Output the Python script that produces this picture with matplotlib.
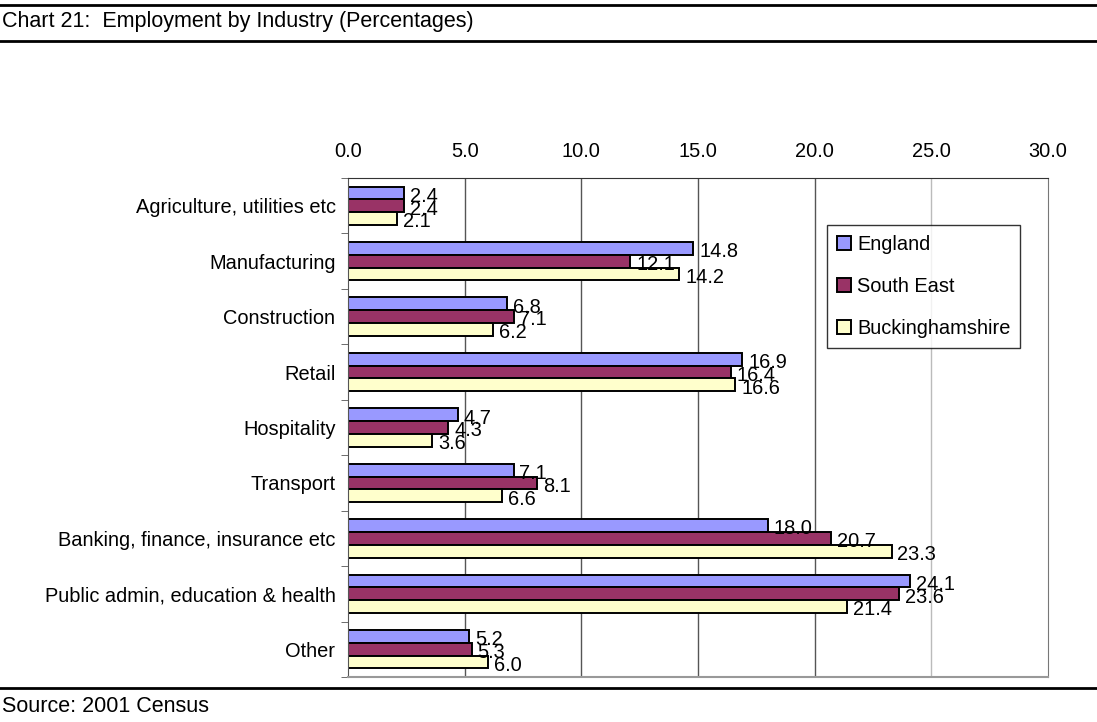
import numpy as np
import matplotlib
matplotlib.use('Agg')
import matplotlib.pyplot as plt
from matplotlib.lines import Line2D

plt.rcParams['font.family'] = ['Liberation Sans', 'DejaVu Sans']

categories = ['Agriculture, utilities etc', 'Manufacturing', 'Construction', 'Retail',
              'Hospitality', 'Transport', 'Banking, finance, insurance etc',
              'Public admin, education & health', 'Other']
england = [2.4, 14.8, 6.8, 16.9, 4.7, 7.1, 18.0, 24.1, 5.2]
south_east = [2.4, 12.1, 7.1, 16.4, 4.3, 8.1, 20.7, 23.6, 5.3]
bucks = [2.1, 14.2, 6.2, 16.6, 3.6, 6.6, 23.3, 21.4, 6.0]
series_names = ['England', 'South East', 'Buckinghamshire']
colors = ['#9999FF', '#993366', '#FFFFCC']

fs = 14.4

fig = plt.figure(figsize=(10.97, 7.22), dpi=100)
ax = fig.add_axes([348 / 1097, 1 - 677 / 722, 700 / 1097, 499 / 722])

ind = np.arange(len(categories))
h = 0.23
for i, (vals, name, col) in enumerate(zip([england, south_east, bucks], series_names, colors)):
    pos = ind + (i - 1) * h
    ax.barh(pos, vals, h, color=col, edgecolor='black', linewidth=1.4, label=name)
    for p, v in zip(pos, vals):
        # labels overlap each other like in the original
        ax.text(v + 0.25, p + 0.06, '%.1f' % v, ha='left', va='center', fontsize=fs)

ax.set_xlim(0, 30)
ax.set_ylim(len(categories) - 0.5, -0.5)
ax.set_xticks(np.arange(0, 30.1, 5))
ax.set_xticklabels(['%.1f' % t for t in np.arange(0, 30.1, 5)], fontsize=fs)
ax.xaxis.tick_top()
ax.tick_params(axis='x', length=0, pad=12)
ax.set_yticks(ind)
ax.set_yticklabels(categories, fontsize=fs)
ax.set_yticks(np.arange(-0.5, len(categories)), minor=True)
ax.tick_params(axis='y', which='major', length=0, pad=9)
ax.tick_params(axis='y', which='minor', length=5, color='#555555')
for x in range(5, 26, 5):
    ax.axvline(x, color='#555555' if x < 25 else '#bbbbbb', linewidth=1, zorder=0)
ax.spines['top'].set_color('#333333')
ax.spines['left'].set_color('#555555')
ax.spines['right'].set_color('#777777')
ax.spines['bottom'].set_color('#999999')
ax.spines['bottom'].set_linewidth(1.5)

leg = ax.legend(loc='upper left', bbox_to_anchor=(479 / 700, 1 - 47 / 499), fontsize=fs,
                frameon=True, fancybox=False, edgecolor='black', handlelength=0.7,
                handleheight=0.7, handletextpad=0.3, labelspacing=1.15, borderpad=0.5,
                borderaxespad=0)
leg.get_frame().set_linewidth(1)

for y, lw in [(5, 2), (41, 2), (688, 2)]:
    fig.add_artist(Line2D([0, 1], [1 - y / 722, 1 - y / 722], color='black', linewidth=lw))
fig.text(2 / 1097, 1 - 22 / 722, 'Chart 21:  Employment by Industry (Percentages)', fontsize=15.5, va='center')
fig.text(2 / 1097, 1 - 706 / 722, 'Source: 2001 Census', fontsize=15.5, va='center')

fig.savefig('out.png', dpi=100)
